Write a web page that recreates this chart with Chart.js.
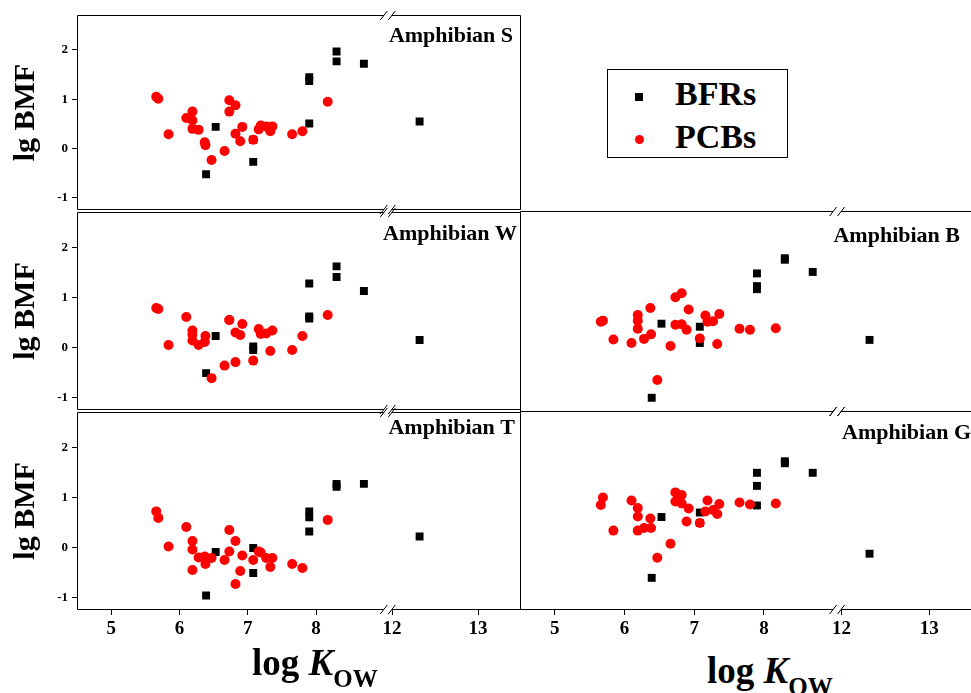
<!DOCTYPE html>
<html>
<head>
<meta charset="utf-8">
<script src="https://cdn.jsdelivr.net/npm/chart.js@4.4.1/dist/chart.umd.min.js"></script>
<style>
  html, body { margin: 0; padding: 0; background: #fff; overflow: hidden; }
  #wrap { position: relative; width: 971px; height: 693px; overflow: hidden; font-family: "Liberation Serif", serif; }
  #wrap canvas { position: absolute; }
  .xtitle { position: absolute; font-weight: bold; font-size: 37px; line-height: 37px; white-space: nowrap; color: #000; }
  .xtitle i { font-style: italic; }
  .xtitle sub { font-size: 25px; vertical-align: baseline; position: relative; top: 12px; font-style: normal; }
  #legend { position: absolute; left: 607px; top: 69px; width: 179px; height: 87px; border: 1px solid #000; background: #fff; }
  #legend .txt { position: absolute; left: 67px; font-weight: bold; font-size: 34px; line-height: 34px; }
  #legend .sq { position: absolute; left: 27px; top: 23px; width: 8px; height: 8px; background: #000; }
  #legend .dot { position: absolute; left: 27px; top: 65px; width: 9px; height: 9px; border-radius: 50%; background: #f00; }
</style>
</head>
<body>
<div id="wrap">
  <canvas id="c_S" width="530" height="222" style="left:0;top:0"></canvas>
  <canvas id="c_W" width="530" height="222" style="left:0;top:200px"></canvas>
  <canvas id="c_T" width="530" height="250" style="left:0;top:400px"></canvas>
  <canvas id="c_B" width="480" height="222" style="left:500px;top:200px"></canvas>
  <canvas id="c_G" width="480" height="250" style="left:500px;top:400px"></canvas>
  <div class="xtitle" style="left:252px;top:644px">log <i>K</i><sub>OW</sub></div>
  <div class="xtitle" style="left:707px;top:652px">log <i>K</i><sub>OW</sub></div>
  <div id="legend">
    <div class="sq"></div><div class="txt" style="top:7px">BFRs</div>
    <div class="dot"></div><div class="txt" style="top:50px">PCBs</div>
  </div>
</div>
<script>
// log Kow of the compounds (same for every panel)
const pcbKow = [5.66, 5.69, 5.84, 6.10, 6.19, 6.19, 6.19, 6.28, 6.37, 6.38, 6.47, 6.66, 6.73, 6.73,
                6.82, 6.82, 6.89, 6.92, 7.08, 7.16, 7.19, 7.27, 7.33, 7.36, 7.65, 7.80, 8.17];
const bfrKow = [6.39, 6.53, 7.08, 7.08, 7.90, 7.90, 7.90, 8.30, 8.30, 8.70, 12.32];

// lg BMF per amphibian
const pcbS = [1.05, 1.01, 0.29, 0.62, 0.75, 0.57, 0.40, 0.38, 0.13, 0.07, -0.23, -0.05, 0.98, 0.75,
              0.88, 0.30, 0.15, 0.44, 0.18, 0.39, 0.47, 0.45, 0.35, 0.45, 0.29, 0.35, 0.95];
const bfrS = [-0.52, 0.44, 0.18, -0.27, 1.45, 1.37, 0.51, 1.97, 1.77, 1.72, 0.55];

const pcbW = [0.79, 0.77, 0.05, 0.61, 0.34, 0.26, 0.14, 0.05, 0.11, 0.23, -0.61, -0.36, 0.55, 0.55,
              0.30, -0.29, 0.25, 0.47, -0.26, 0.37, 0.27, 0.28, -0.07, 0.34, -0.05, 0.23, 0.65];
const bfrW = [-0.51, 0.23, 0.02, -0.05, 1.28, 0.62, 0.58, 1.62, 1.41, 1.13, 0.15];

const pcbT = [0.72, 0.59, 0.02, 0.41, 0.13, -0.04, -0.45, -0.20, -0.18, -0.33, -0.21, -0.25, 0.35, -0.08,
              0.13, -0.73, -0.47, -0.16, -0.25, -0.08, -0.10, -0.21, -0.39, -0.21, -0.33, -0.41, 0.55];
const bfrT = [-0.96, -0.09, -0.01, -0.51, 0.72, 0.60, 0.32, 1.27, 1.21, 1.27, 0.22];

const pcbB = [0.53, 0.55, 0.18, 0.11, 0.66, 0.55, 0.39, 0.19, 0.80, 0.28, -0.62, 0.05, 1.01, 0.47,
              1.09, 0.48, 0.37, 0.77, 0.20, 0.65, 0.53, 0.54, 0.09, 0.68, 0.39, 0.37, 0.40];
const bfrB = [-0.97, 0.49, 0.43, 0.11, 1.48, 1.23, 1.17, 1.78, 1.75, 1.51, 0.17];

const pcbG = [0.84, 0.99, 0.33, 0.93, 0.78, 0.61, 0.33, 0.38, 0.57, 0.38, -0.21, 0.07, 1.09, 0.91,
              1.04, 0.87, 0.51, 0.77, 0.48, 0.71, 0.93, 0.74, 0.66, 0.86, 0.89, 0.85, 0.87];
const bfrG = [-0.61, 0.60, 0.69, 0.48, 1.48, 1.22, 0.83, 1.71, 1.67, 1.48, -0.13];

const xTicks = [5, 6, 7, 8, 12, 13];
const yTicks = [-1, 0, 1, 2];

// broken x axis: two value ranges, the break sits at 70% of the width
const xSegments = [[4.5, 9.05], [11.95, 13.5]];
const breakAt = 0.7;

Chart.defaults.font.family = '"Liberation Serif", "Times New Roman", serif';
Chart.defaults.color = '#000';

class BrokenAxis extends Chart.LinearScale {
    getPixelForValue(value) {
        const [[a0, a1], [b0, b1]] = xSegments;
        let f;
        if (value <= a1) {
            f = (value - a0) / (a1 - a0) * breakAt;
        } else {
            f = breakAt + (value - b0) / (b1 - b0) * (1 - breakAt);
        }
        return this.getPixelForDecimal(f);
    }
    getValueForPixel(pixel) {
        const [[a0, a1], [b0, b1]] = xSegments;
        const f = this.getDecimalForPixel(pixel);
        if (f <= breakAt) return a0 + f / breakAt * (a1 - a0);
        return b0 + (f - breakAt) / (1 - breakAt) * (b1 - b0);
    }
}
BrokenAxis.id = 'broken';
BrokenAxis.defaults = {};
Chart.register(BrokenAxis);

// box around the plot with the // marks on top and bottom
const framePlugin = {
    id: 'frame',
    afterDraw(chart) {
        const { ctx, chartArea } = chart;
        const l = Math.round(chartArea.left) + 0.5;
        const r = Math.round(chartArea.right) - 0.5;
        const t = Math.round(chartArea.top) + 0.5;
        const b = Math.round(chartArea.bottom) - 0.5;
        const bx = chart.scales.x.getPixelForDecimal(breakAt);
        ctx.save();
        ctx.strokeStyle = '#000';
        ctx.lineWidth = 1;
        ctx.beginPath();
        ctx.moveTo(l, t); ctx.lineTo(l, b);
        ctx.moveTo(r, t); ctx.lineTo(r, b);
        [t, b].forEach((y) => {
            ctx.moveTo(l, y); ctx.lineTo(bx - 4, y);
            ctx.moveTo(bx + 4, y); ctx.lineTo(r, y);
            [bx - 4, bx + 4].forEach((sx) => {
                ctx.moveTo(sx - 3.5, y + 4.5);
                ctx.lineTo(sx + 3.5, y - 4.5);
            });
        });
        ctx.stroke();
        ctx.restore();
    },
};

const namePlugin = {
    id: 'panelName',
    afterDraw(chart, args, opts) {
        const { ctx, chartArea } = chart;
        ctx.save();
        ctx.font = 'bold 22px "Liberation Serif", serif';
        ctx.fillStyle = '#000';
        ctx.textAlign = 'right';
        ctx.textBaseline = 'alphabetic';
        ctx.fillText(opts.text, chartArea.right - opts.inset, chartArea.top + opts.base);
        ctx.restore();
    },
};

function makePanel(id, name, pcb, bfr, cfg) {
    const ctx = document.getElementById(id).getContext('2d');
    return new Chart(ctx, {
        type: 'scatter',
        data: {
            datasets: [
                {
                    label: 'PCBs',
                    data: pcbKow.map((x, i) => ({ x, y: pcb[i] })),
                    pointStyle: 'circle',
                    pointRadius: 5,
                    backgroundColor: '#ff0000',
                    borderWidth: 0,
                },
                {
                    label: 'BFRs',
                    data: bfrKow.map((x, i) => ({ x, y: bfr[i] })),
                    pointStyle: 'rect',
                    pointRadius: 5.6,
                    backgroundColor: '#000000',
                    borderWidth: 0,
                },
            ],
        },
        options: {
            responsive: false,
            animation: false,
            events: [],
            layout: { padding: cfg.padding },
            plugins: {
                legend: { display: false },
                tooltip: { enabled: false },
                panelName: { text: name, inset: cfg.inset, base: cfg.base },
            },
            scales: {
                x: {
                    type: 'broken',
                    min: 4.5,
                    max: 13.5,
                    display: cfg.xAxis,
                    border: { display: false },
                    grid: { display: true, drawOnChartArea: false, drawTicks: true, tickLength: 5, color: '#000' },
                    afterBuildTicks: (s) => { s.ticks = xTicks.map((v) => ({ value: v })); },
                    afterFit: (s) => { s.height = cfg.xAxis ? 30 : 0; },
                    ticks: {
                        padding: 3,
                        font: { size: 19, weight: 'bold' },
                        color: '#000',
                        callback: (v) => String(v),
                    },
                },
                y: {
                    min: -1.25,
                    max: 2.71,
                    display: cfg.yAxis,
                    border: { display: false },
                    grid: { display: true, drawOnChartArea: false, drawTicks: true, tickLength: 5, color: '#000' },
                    afterBuildTicks: (s) => { s.ticks = yTicks.map((v) => ({ value: v })); },
                    afterFit: (s) => { s.width = cfg.yAxis ? 77 : 0; },
                    ticks: {
                        padding: 4,
                        font: { size: 13, weight: 'bold' },
                        color: '#000',
                        callback: (v) => String(v),
                    },
                    title: {
                        display: true,
                        text: 'lg BMF',
                        font: { size: 30, weight: 'bold' },
                        color: '#000',
                        padding: { top: 8, bottom: 0 },
                    },
                },
            },
        },
        plugins: [framePlugin, namePlugin],
    });
}

makePanel('c_S', 'Amphibian S', pcbS, bfrS,
    { padding: { top: 15, bottom: 10, left: 0, right: 9 }, xAxis: false, yAxis: true, inset: 8, base: 27 });
makePanel('c_W', 'Amphibian W', pcbW, bfrW,
    { padding: { top: 11, bottom: 10, left: 0, right: 9 }, xAxis: false, yAxis: true, inset: 4, base: 28 });
makePanel('c_T', 'Amphibian T', pcbT, bfrT,
    { padding: { top: 11, bottom: 10, left: 0, right: 9 }, xAxis: true, yAxis: true, inset: 6, base: 22 });
makePanel('c_B', 'Amphibian B', pcbB, bfrB,
    { padding: { top: 11, bottom: 10, left: 20, right: 7 }, xAxis: false, yAxis: false, inset: 13, base: 31 });
makePanel('c_G', 'Amphibian G', pcbG, bfrG,
    { padding: { top: 11, bottom: 10, left: 20, right: 7 }, xAxis: true, yAxis: false, inset: 2, base: 28 });
</script>
</body>
</html>
